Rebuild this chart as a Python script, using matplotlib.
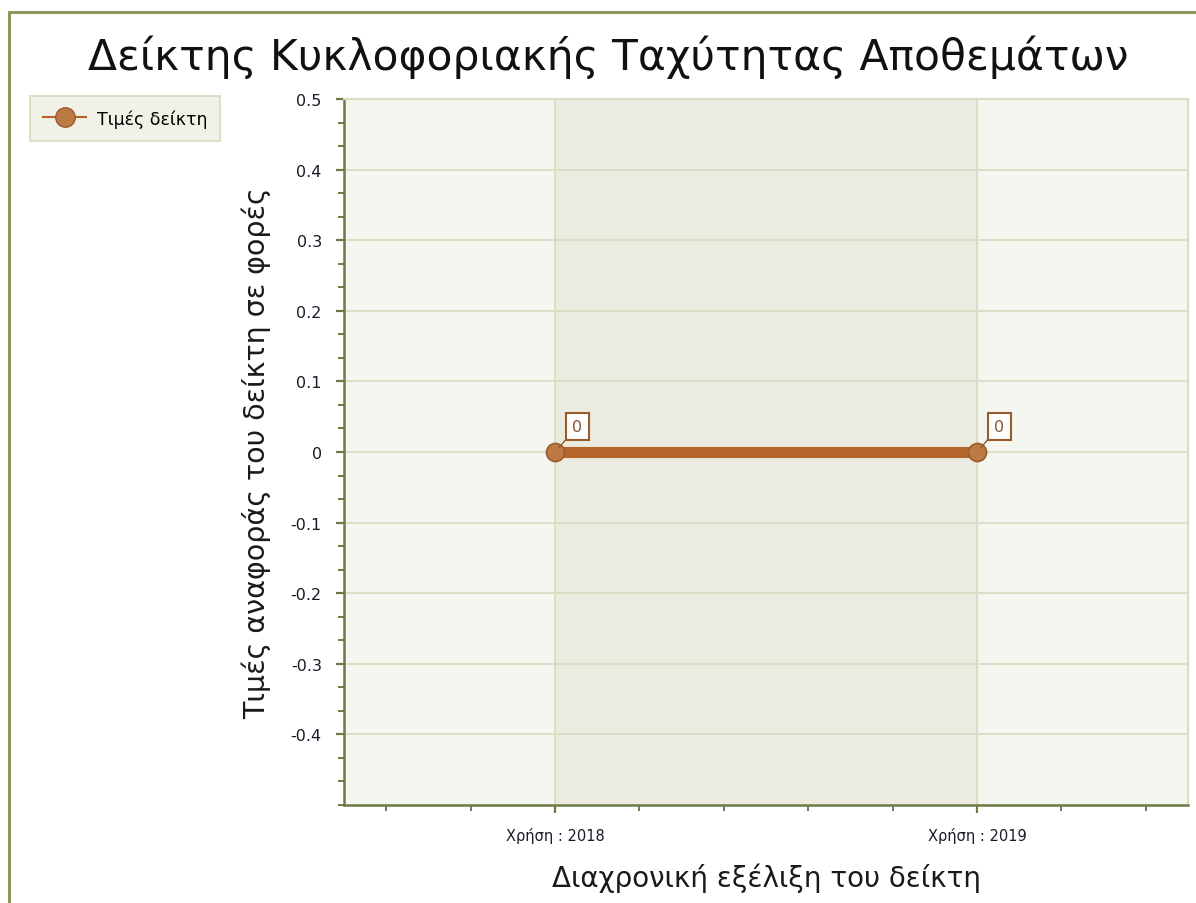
import matplotlib
matplotlib.use("Agg")
import matplotlib.pyplot as plt
import numpy as np
from matplotlib.patches import Rectangle
from matplotlib.ticker import MultipleLocator
from matplotlib.lines import Line2D

categories = ["Χρήση : 2018", "Χρήση : 2019"]
values = [0, 0]
series_name = "Τιμές δείκτη"
title = "Δείκτης Κυκλοφοριακής Ταχύτητας Αποθεμάτων"
xlabel = "Διαχρονική εξέλιξη του δείκτη"
ylabel = "Τιμές αναφοράς του δείκτη σε φορές"
yticks = [-0.4, -0.3, -0.2, -0.1, 0, 0.1, 0.2, 0.3, 0.4, 0.5]
yticklabels = ["-0.4", "-0.3", "-0.2", "-0.1", "0", "0.1", "0.2", "0.3", "0.4", "0.5"]

plt.rcParams['font.family'] = ['DejaVu Sans']

W, H = 1196, 904
fig = plt.figure(figsize=(W / 100, H / 100), dpi=100)
fig.patch.set_facecolor("white")

# figure border
fig.add_artist(Rectangle((9 / W, -0.1), 1.2, 1 - 13 / H + 0.1, transform=fig.transFigure,
                         fill=False, edgecolor="#8A9A5B", linewidth=2.2))

left, right, top, bottom = 344, 1188, 100, 806
ax = fig.add_axes([left / W, 1 - bottom / H, (right - left) / W, (bottom - top) / H])
ax.set_facecolor("#F6F6F0")

x = np.arange(len(categories))
ax.set_xlim(-0.5, len(categories) - 0.5)
ax.set_ylim(-0.5, 0.5)

# shaded band between categories
ax.axvspan(x[0], x[1], color="#ECEBE0", zorder=0)

# grid
for yt in yticks:
    ax.axhline(yt, color="#DADDC4", linewidth=1.3, zorder=1)
for xv in x:
    ax.axvline(xv, color="#DADDC4", linewidth=1.3, zorder=1)

ax.plot(x, values, color="#B5652A", linewidth=8, zorder=3, solid_capstyle="butt")
ax.plot(x, values, linestyle="none", marker="o", markersize=13,
        markerfacecolor="#BC7A45", markeredgecolor="#9A5A2A", markeredgewidth=1.2, zorder=4)

for xi, v in zip(x, values):
    ax.annotate(str(v), xy=(xi, v), xytext=(12.5, 13), textcoords="offset points",
                fontsize=11.5, color="#8A5530", ha="left", va="bottom",
                bbox=dict(boxstyle="square,pad=0.38", fc="white", ec="#9A5A2A", lw=1.5),
                arrowprops=dict(arrowstyle="-", color="#9A5A2A", lw=1.0, shrinkA=0, shrinkB=4),
                zorder=5)

ax.set_yticks(yticks)
ax.set_yticklabels(yticklabels)
ax.yaxis.set_minor_locator(MultipleLocator(0.1 / 3))
ax.set_xticks(x)
ax.set_xticklabels(categories)
ax.xaxis.set_minor_locator(MultipleLocator(0.2))

spine_c = "#6B7B45"
for s in ["left", "bottom"]:
    ax.spines[s].set_color(spine_c)
    ax.spines[s].set_linewidth(1.8)
for s in ["top", "right"]:
    ax.spines[s].set_color("#DADDC4")
    ax.spines[s].set_linewidth(1.5)

ax.tick_params(axis="both", which="major", length=6, width=1.6, color=spine_c,
               labelsize=11.5, labelcolor="#1a1a2a")
ax.tick_params(axis="both", which="minor", length=4, width=1.4, color=spine_c)
ax.tick_params(axis="y", pad=10)
ax.tick_params(axis="x", pad=10, labelsize=10.5)

ax.set_xlabel(xlabel, fontsize=20, color="#1a1a1a", labelpad=14)
ax.set_ylabel(ylabel, fontsize=20.5, color="#1a1a1a", labelpad=14)

fig.text(608 / W, 1 - 57 / H, title, fontsize=30.5, ha="center", va="center", color="#111111")

# legend
h = Line2D([0], [0], color="#B5652A", linewidth=1.5, marker="o", markersize=14,
           markerfacecolor="#BC7A45", markeredgecolor="#9A5A2A")
leg = fig.legend([h], [series_name], loc="upper left", bbox_to_anchor=(30 / W, 1 - 97 / H),
                 frameon=True, fontsize=12.5, handlelength=2.5, borderpad=0.75,
                 handletextpad=0.6, fancybox=False, borderaxespad=0)
leg.get_frame().set_facecolor("#EEEEE2")
leg.get_frame().set_edgecolor("#D6D9BE")
leg.get_frame().set_linewidth(1.5)

fig.savefig("out.png", dpi=100, facecolor=fig.get_facecolor())
